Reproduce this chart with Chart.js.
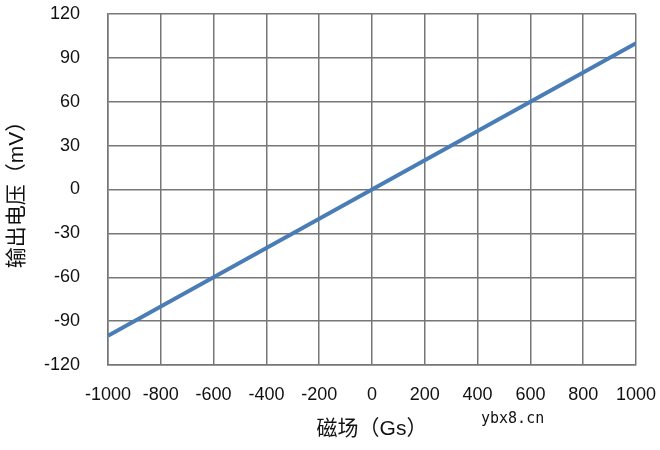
<!DOCTYPE html>
<html>
<head>
<meta charset="utf-8">
<script src="https://cdn.jsdelivr.net/npm/chart.js@4"></script>
<style>
body{margin:0;background:#fff;}
#wrap{position:relative;width:660px;height:450px;}
#mark{position:absolute;left:481px;top:409px;font-family:"DejaVu Sans Mono",monospace;font-size:15px;color:#111;}
</style>
</head>
<body>
<div id="wrap">
<canvas id="c" width="660" height="450"></canvas>
<div id="mark">ybx8.cn</div>
</div>
<script>
// magnetic field (Gs) vs output voltage (mV)
let fieldGs = [-1000,-800,-600,-400,-200,0,200,400,600,800,1000];
let outputMv = [-100,-80,-60,-40,-20,0,20,40,60,80,100];
let xTicks = [-1000,-800,-600,-400,-200,0,200,400,600,800,1000];
let yTicks = [-120,-90,-60,-30,0,30,60,90,120];

let pts = fieldGs.map((x,i) => ({x:x, y:outputMv[i]}));

let font = {family:"'Liberation Sans', Arial, sans-serif", size:18};
let cjk = {family:"'Liberation Sans','Noto Sans CJK SC', sans-serif", size:21};

new Chart(document.getElementById("c"),{
type:"line",
data:{
datasets:[{
data:pts,
borderColor:"#4a7cb6",
borderWidth:4,
pointRadius:0,
tension:0,
fill:false
}]
},
options:{
responsive:false,
animation:false,
layout:{padding:{left:0,right:24,top:14,bottom:0}},
plugins:{legend:{display:false},tooltip:{enabled:false}},
scales:{
x:{
type:"linear",
min:-1000,max:1000,
afterBuildTicks: s => { s.ticks = xTicks.map(v => ({value:v})); },
afterFit: s => { s.height = 85; s.paddingLeft = 0; s.paddingRight = 0; },
grid:{color:"#777",lineWidth:1.5,drawTicks:false},
border:{color:"#777",width:1.5},
ticks:{color:"#111",font:font,padding:19,maxRotation:0,autoSkip:false,callback:v => String(v)},
title:{display:true,text:"磁场（Gs）",color:"#111",font:cjk,padding:{top:4,bottom:8}}
},
y:{
min:-120,max:120,
afterBuildTicks: s => { s.ticks = yTicks.map(v => ({value:v})); },
afterFit: s => { s.width = 108; s.paddingTop = 0; s.paddingBottom = 0; },
grid:{color:"#777",lineWidth:1.5,drawTicks:false},
border:{color:"#777",width:1.5},
ticks:{color:"#111",font:font,padding:28,autoSkip:false,callback:v => String(v)},
title:{display:true,text:"输出电压（mV）",color:"#111",font:cjk,padding:{top:5,bottom:0}}
}
}
}
});
</script>
</body>
</html>
